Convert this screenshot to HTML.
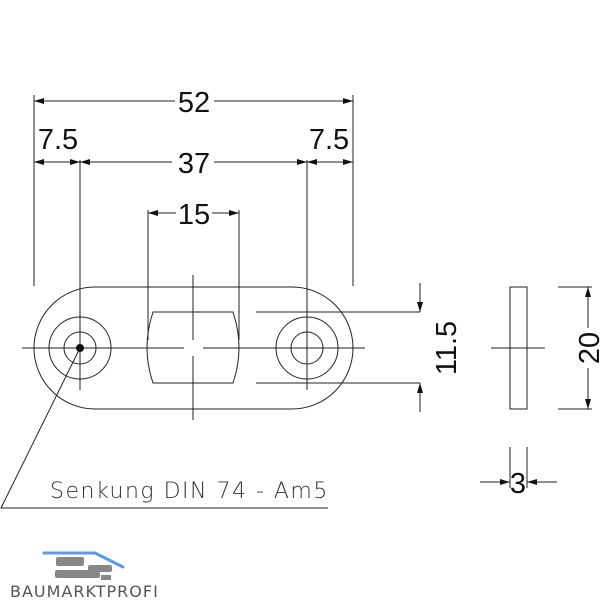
<!DOCTYPE html>
<html><head><style>body{margin:0;background:#fff}svg{display:block}</style></head><body>
<svg width="600" height="600" viewBox="0 0 600 600" xmlns="http://www.w3.org/2000/svg">
<defs>
<marker id="a" viewBox="0 0 10 6" refX="10" refY="3" markerWidth="10" markerHeight="6" orient="auto-start-reverse" markerUnits="userSpaceOnUse"><path d="M0,0L10,3L0,6z" fill="#111"/></marker>
</defs>
<g stroke="#222" stroke-width="1" fill="none">
<line x1="34" y1="95" x2="34" y2="286"/>
<line x1="353" y1="95" x2="353" y2="286"/>
<line x1="80" y1="160" x2="80" y2="390"/>
<line x1="307" y1="160" x2="307" y2="390"/>
<line x1="148" y1="210" x2="148" y2="340"/>
<line x1="239" y1="210" x2="239" y2="340"/>
<line x1="34" y1="101" x2="175" y2="101" marker-start="url(#a)"/>
<line x1="214" y1="101" x2="353" y2="101" marker-end="url(#a)"/>
<line x1="34" y1="162" x2="80" y2="162" marker-start="url(#a)" marker-end="url(#a)"/>
<line x1="80" y1="162" x2="172" y2="162" marker-start="url(#a)"/>
<line x1="214" y1="162" x2="307" y2="162" marker-end="url(#a)"/>
<line x1="307" y1="162" x2="353" y2="162" marker-start="url(#a)" marker-end="url(#a)"/>
<line x1="148" y1="213" x2="176" y2="213" marker-start="url(#a)"/>
<line x1="212" y1="213" x2="239" y2="213" marker-end="url(#a)"/>
<rect x="34" y="287" width="319" height="122" rx="61" ry="61"/>
<circle cx="80" cy="348" r="31"/><circle cx="80" cy="348" r="16"/>
<circle cx="307" cy="348" r="31"/><circle cx="307" cy="348" r="16"/>
<path d="M153,312 L233,312 Q245,348 233,383 L153,383 Q141,348 153,312 Z"/>
<line x1="22" y1="348" x2="184" y2="348"/>
<line x1="203" y1="348" x2="365" y2="348"/>
<line x1="193" y1="275" x2="193" y2="340"/>
<line x1="193" y1="356" x2="193" y2="420"/>
<line x1="256" y1="312" x2="420" y2="312"/>
<line x1="256" y1="383" x2="420" y2="383"/>
<line x1="420" y1="283" x2="420" y2="312" marker-end="url(#a)"/>
<line x1="420" y1="412" x2="420" y2="383" marker-end="url(#a)"/>
<rect x="510" y="287" width="17" height="122"/>
<line x1="491" y1="348" x2="545" y2="348"/>
<line x1="558" y1="287" x2="592" y2="287"/>
<line x1="558" y1="409" x2="592" y2="409"/>
<line x1="588" y1="287" x2="588" y2="328" marker-start="url(#a)"/>
<line x1="588" y1="368" x2="588" y2="409" marker-end="url(#a)"/>
<line x1="510" y1="447" x2="510" y2="488"/>
<line x1="527" y1="447" x2="527" y2="488"/>
<line x1="480" y1="482" x2="510" y2="482" marker-end="url(#a)"/>
<line x1="557" y1="482" x2="527" y2="482" marker-end="url(#a)"/>
<polyline points="80,348 1,508 328,508"/>
</g>
<circle cx="80" cy="348" r="4" fill="#111"/>
<g font-family="Liberation Sans, sans-serif" font-size="29" fill="#111" text-anchor="middle">
<text x="194" y="112">52</text>
<text x="58" y="149">7.5</text>
<text x="329" y="149">7.5</text>
<text x="194" y="173">37</text>
<text x="194" y="224">15</text>
<text x="518" y="493">3</text>
<text transform="translate(456,348) rotate(-90)">11.5</text>
<text transform="translate(599,348) rotate(-90)">20</text>
</g>
<text x="50" y="498" font-family="DejaVu Sans, sans-serif" font-size="22" font-weight="200" fill="#333" letter-spacing="1.5">Senkung DIN 74 - Am5</text>
<path d="M44,553 L95,553 L123,567" stroke="#5a9be8" stroke-width="3" fill="none" stroke-linecap="round"/>
<g fill="#888">
<rect x="56" y="557" width="28" height="9" rx="2"/>
<rect x="88" y="565" width="24" height="7" rx="2"/>
<rect x="55" y="570" width="45" height="8" rx="2"/>
<rect x="101" y="575" width="10" height="5"/>
</g>
<text x="10" y="597" font-family="DejaVu Sans, sans-serif" font-size="16" fill="#555" letter-spacing="1">BAUMARKTPROFI</text>
</svg>
</body></html>
